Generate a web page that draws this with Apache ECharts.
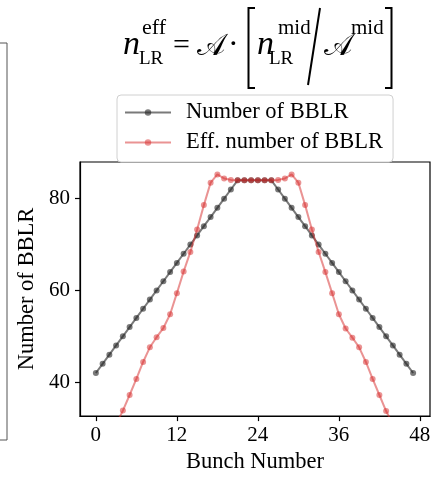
<!DOCTYPE html>
<html>
<head>
<meta charset="utf-8">
<script src="https://cdn.jsdelivr.net/npm/echarts@6/dist/echarts.min.js"></script>
<style>
  html, body { margin: 0; padding: 0; background: #fff; }
  #chart { width: 442px; height: 479px; }
</style>
</head>
<body>
<div id="chart"></div>
<script>
// Bunch index along the train
const bunches = Array.from({ length: 48 }, (_, i) => i);

// Number of beam-beam long-range encounters per bunch
const nBBLR = [
  42, 44, 46, 48, 50, 52, 54, 56, 58, 60, 62, 64, 66, 68, 70, 72, 74, 76, 78, 80, 82,
  84, 84, 84, 84, 84, 84,
  82, 80, 78, 76, 74, 72, 70, 68, 66, 64, 62, 60, 58, 56, 54, 52, 50, 48, 46, 44, 42
];

// Effective number of encounters (scaled by the local amplitude)
const effBBLR = [
  null, null, null, 30.8, 33.8, 37.2, 40.7, 44.4, 47.6, 49.8, 51.8, 54.8,
  59.4, 64.1, 68.4, 73.3, 78.6, 83.5, 85.3, 84.4, 84.1,
  84, 84, 84, 84, 84, 84,
  84.1, 84.4, 85.3, 83.5, 78.6, 73.3, 68.4, 64.0, 59.4, 54.8,
  51.7, 49.7, 47.6, 44.4, 40.7, 37.2, 33.7, 30.8, null, null, null
];

const xTicks = [0, 12, 24, 36, 48];
const yTicks = [40, 60, 80];

const seriesNames = ['Number of BBLR', 'Eff. number of BBLR'];

const serif = 'Liberation Serif';
const chart = echarts.init(document.getElementById('chart'), null, { renderer: 'canvas' });

const pair = (ys) => bunches.map((b, i) => [b, ys[i]]);

chart.setOption({
  animation: false,
  backgroundColor: '#fff',
  grid: {
    left: 80, top: 162, right: 12, bottom: 55,
    show: true, borderColor: '#000', borderWidth: 1.2, backgroundColor: 'transparent'
  },
  legend: {
    orient: 'vertical',
    left: 117, top: 95,
    itemWidth: 46, itemHeight: 8, itemGap: 7,
    padding: [6, 10, 8, 7],
    borderColor: '#d0d0d0', borderWidth: 1, borderRadius: 4,
    backgroundColor: '#fff',
    textStyle: { fontFamily: serif, fontSize: 22.5, color: '#000', lineHeight: 22, padding: [0, 0, 0, 10] },
    data: seriesNames
  },
  xAxis: {
    type: 'value', min: -2.35, max: 49.5,
    name: 'Bunch Number', nameLocation: 'middle', nameGap: 33,
    nameTextStyle: { fontFamily: serif, fontSize: 22.5, color: '#000' },
    axisLine: { show: true, onZero: false, lineStyle: { color: '#000', width: 1.2 } },
    axisTick: { show: true, inside: false, length: 5, customValues: xTicks, lineStyle: { color: '#000', width: 1.2 } },
    axisLabel: { customValues: xTicks, margin: 9, fontFamily: serif, fontSize: 21, color: '#000' },
    splitLine: { show: false }
  },
  yAxis: {
    type: 'value', min: 32.6, max: 88,
    name: 'Number of BBLR', nameLocation: 'middle', nameGap: 35,
    nameTextStyle: { fontFamily: serif, fontSize: 22.5, color: '#000' },
    axisLine: { show: true, onZero: false, lineStyle: { color: '#000', width: 1.2 } },
    axisTick: { show: true, inside: false, length: 5, customValues: yTicks, lineStyle: { color: '#000', width: 1.2 } },
    axisLabel: { customValues: yTicks, margin: 10, fontFamily: serif, fontSize: 21, color: '#000' },
    splitLine: { show: false }
  },
  series: [
    {
      name: seriesNames[0], type: 'line', data: pair(nBBLR),
      symbol: 'circle', symbolSize: 6, showSymbol: true,
      lineStyle: { color: '#222', width: 2, opacity: 0.6 },
      itemStyle: { color: '#222', opacity: 0.6 },
      z: 2
    },
    {
      name: seriesNames[1], type: 'line', data: pair(effBBLR),
      symbol: 'circle', symbolSize: 6, showSymbol: true, connectNulls: false,
      lineStyle: { color: '#d62728', width: 2, opacity: 0.5 },
      itemStyle: { color: '#d62728', opacity: 0.5 },
      z: 3
    }
  ],
  graphic: [
    // edge of the neighbouring panel
    { type: 'rect', shape: { x: -10, y: 43, width: 17, height: 397 },
      style: { fill: 'none', stroke: '#555', lineWidth: 1 }, silent: true },
    // formula: n_LR^eff = A · [ n_LR^mid / A^mid ]
    { type: 'text', x: 123, y: 62, style: { text: 'n', font: 'italic 34px ' + serif, fill: '#000', verticalAlign: 'bottom' } },
    { type: 'text', x: 142, y: 39, style: { text: 'eff', font: '22px ' + serif, fill: '#000', verticalAlign: 'bottom' } },
    { type: 'text', x: 139, y: 69, style: { text: 'LR', font: '19px ' + serif, fill: '#000', verticalAlign: 'bottom' } },
    { type: 'text', x: 173, y: 61, style: { text: '=', font: '30px ' + serif, fill: '#000', verticalAlign: 'bottom' } },
    { type: 'text', x: 197, y: 62, style: { text: '𝒜', font: '30px ' + serif, fill: '#000', verticalAlign: 'bottom' } },
    { type: 'text', x: 228, y: 62, style: { text: '·', font: '32px ' + serif, fill: '#000', verticalAlign: 'bottom' } },
    { type: 'polyline', shape: { points: [[255, 8], [248.5, 8], [248.5, 88], [255, 88]] }, style: { stroke: '#000', lineWidth: 2, fill: 'none' } },
    { type: 'text', x: 257, y: 62, style: { text: 'n', font: 'italic 34px ' + serif, fill: '#000', verticalAlign: 'bottom' } },
    { type: 'text', x: 278, y: 39, style: { text: 'mid', font: '21px ' + serif, fill: '#000', verticalAlign: 'bottom' } },
    { type: 'text', x: 269, y: 69, style: { text: 'LR', font: '19px ' + serif, fill: '#000', verticalAlign: 'bottom' } },
    { type: 'line', shape: { x1: 320, y1: 8, x2: 308, y2: 85 }, style: { stroke: '#000', lineWidth: 2 } },
    { type: 'text', x: 324, y: 62, style: { text: '𝒜', font: '30px ' + serif, fill: '#000', verticalAlign: 'bottom' } },
    { type: 'text', x: 351, y: 39, style: { text: 'mid', font: '21px ' + serif, fill: '#000', verticalAlign: 'bottom' } },
    { type: 'polyline', shape: { points: [[385, 8], [391.5, 8], [391.5, 88], [385, 88]] }, style: { stroke: '#000', lineWidth: 2, fill: 'none' } }
  ]
});
</script>
</body>
</html>
